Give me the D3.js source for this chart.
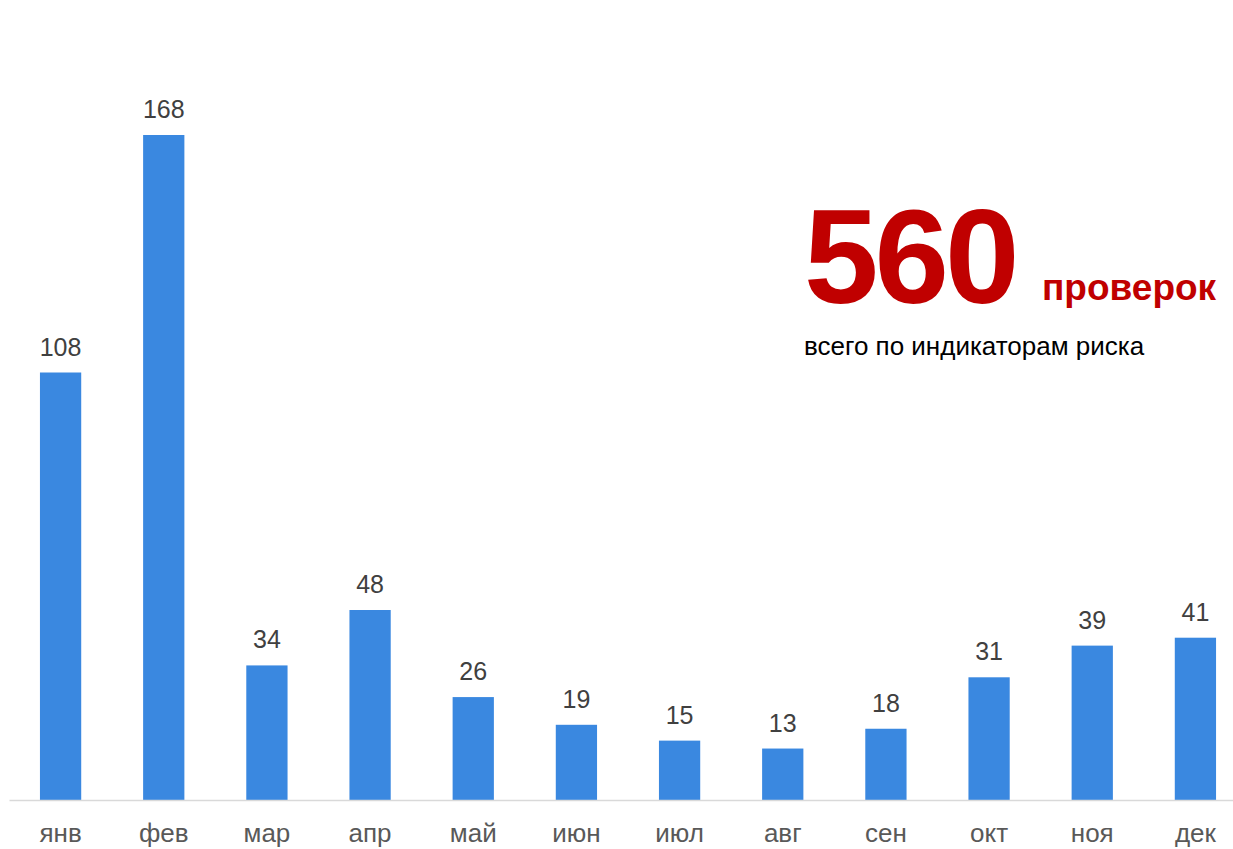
<!DOCTYPE html>
<html>
<head>
<meta charset="utf-8">
<script src="https://cdn.jsdelivr.net/npm/d3@7"></script>
<style>
  body { margin: 0; background: #fff; }
  text { font-family: "Liberation Sans", Arial, sans-serif; }
</style>
</head>
<body>
<svg id="chart" width="1233" height="849"></svg>
<script>
// месяцы и количество проверок
var months = ['янв', 'фев', 'мар', 'апр', 'май', 'июн', 'июл', 'авг', 'сен', 'окт', 'ноя', 'дек'];
var checks = [108, 168, 34, 48, 26, 19, 15, 13, 18, 31, 39, 41];
var totalLabel = '560';
var totalUnit = 'проверок';
var subtitle = 'всего по индикаторам риска';

var svg = d3.select('#chart');

var x = d3.scaleBand()
  .domain(months)
  .range([9, 1247])
  .paddingInner(0.6)
  .paddingOuter(0.3);

var y = d3.scaleLinear()
  .domain([0, 168])
  .range([800, 135]);

// столбцы
svg.append('g').selectAll('rect')
  .data(checks)
  .enter().append('rect')
  .attr('x', function(d, i) { return x(months[i]); })
  .attr('y', function(d) { return y(d); })
  .attr('width', x.bandwidth())
  .attr('height', function(d) { return y(0) - y(d); })
  .attr('fill', '#3a88e0');

// подписи значений
svg.append('g').selectAll('text')
  .data(checks)
  .enter().append('text')
  .attr('x', function(d, i) { return x(months[i]) + x.bandwidth() / 2; })
  .attr('y', function(d) { return y(d) - 17; })
  .attr('text-anchor', 'middle')
  .attr('font-size', 25)
  .attr('fill', '#404040')
  .text(function(d) { return d; });

// ось X
var axis = svg.append('g')
  .attr('transform', 'translate(0,' + y(0) + ')')
  .call(d3.axisBottom(x).tickSize(0).tickPadding(24));
axis.select('.domain').attr('stroke', '#d9d9d9').attr('stroke-width', 1.5);
axis.selectAll('text')
  .attr('font-size', 26)
  .attr('fill', '#595959')
  .style('font-family', '"Liberation Sans", Arial, sans-serif');

// итог
svg.append('text')
  .attr('x', 804)
  .attr('y', 303)
  .attr('font-size', 134)
  .attr('font-weight', 'bold')
  .attr('letter-spacing', -4)
  .attr('fill', '#c00000')
  .text(totalLabel);
svg.append('text')
  .attr('x', 1042)
  .attr('y', 300)
  .attr('font-size', 37)
  .attr('font-weight', 'bold')
  .attr('fill', '#c00000')
  .text(totalUnit);
svg.append('text')
  .attr('x', 804)
  .attr('y', 355)
  .attr('font-size', 26)
  .attr('fill', '#000')
  .text(subtitle);
</script>
</body>
</html>
